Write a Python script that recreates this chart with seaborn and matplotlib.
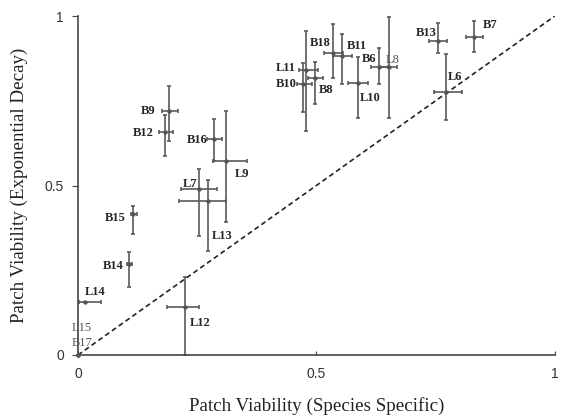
import pandas as pd
import matplotlib
matplotlib.use("Agg")
import matplotlib.pyplot as plt
import seaborn as sns

names = ["B18", "B11", "B6", "L8", "L10", "B8", "L11", "B10", "B13", "B7", "L6",
         "B9", "B12", "B16", "L9", "L7", "L13", "B15", "B14", "L14", "L12", "L15", "B17"]
x = [0.535, 0.553, 0.631, 0.652, 0.587, 0.497, 0.478, 0.472, 0.755, 0.830, 0.771,
     0.191, 0.182, 0.285, 0.310, 0.254, 0.273, 0.115, 0.107, 0.015, 0.224, 0.0, 0.0]
x_lo = [0.516, 0.535, 0.614, 0.633, 0.566, 0.482, 0.463, 0.459, 0.736, 0.813, 0.746,
        0.176, 0.170, 0.270, 0.283, 0.216, 0.212, 0.111, 0.103, 0.002, 0.187, 0.0, 0.0]
x_hi = [0.556, 0.574, 0.650, 0.669, 0.608, 0.514, 0.503, 0.491, 0.774, 0.849, 0.805,
        0.210, 0.199, 0.302, 0.354, 0.291, 0.310, 0.124, 0.113, 0.048, 0.254, 0.0, 0.0]
y = [0.891, 0.882, 0.850, 0.850, 0.802, 0.817, 0.841, 0.799, 0.926, 0.938, 0.776,
     0.720, 0.658, 0.637, 0.572, 0.490, 0.454, 0.416, 0.268, 0.156, 0.142, 0.0, 0.0]
y_lo = [0.817, 0.799, 0.799, 0.699, 0.699, 0.740, 0.661, 0.717, 0.891, 0.894, 0.693,
        0.631, 0.587, 0.572, 0.392, 0.351, 0.307, 0.357, 0.201, 0.156, 0.0, 0.0, 0.0]
y_hi = [0.976, 0.947, 0.906, 0.997, 0.879, 0.864, 0.956, 0.861, 0.979, 0.985, 0.888,
        0.794, 0.708, 0.696, 0.720, 0.549, 0.516, 0.440, 0.304, 0.156, 0.230, 0.0, 0.0]

# label offsets in pixels (dx, dy) relative to each point
offsets = {"B18": (-13, 10), "B11": (15, 10), "B6": (-10, 8), "L8": (4, 7),
           "L10": (12, -15), "B8": (11, -12), "L11": (-20, 2), "B10": (-17, 0),
           "B13": (-12, 8), "B7": (16, 12), "L6": (9, 15), "B9": (-21, 0),
           "B12": (-22, -1), "B16": (-17, -1), "L9": (16, -13), "L7": (-9, 5),
           "L13": (14, -35), "B15": (-18, -4), "B14": (-16, -2), "L14": (10, 10),
           "L12": (15, -16), "L15": (4, 27), "B17": (4, 12)}
light = {"L8", "L15", "B17"}

df = pd.DataFrame({"name": names, "x": x, "y": y, "x_lo": x_lo, "x_hi": x_hi,
                   "y_lo": y_lo, "y_hi": y_hi})

sns.set_style("ticks")
plt.rcParams["font.family"] = ["Liberation Serif", "DejaVu Serif"]

fig = plt.figure(figsize=(5.65, 4.15), dpi=100)
ax = fig.add_axes([0.138, 0.1446, 0.844, 0.8168])

ax.plot([0, 1], [0, 1], ls=(0, (3, 2)), color="#222222", lw=1.2, zorder=1)

ax.errorbar(df["x"], df["y"],
            xerr=[df["x"] - df["x_lo"], df["x_hi"] - df["x"]],
            yerr=[df["y"] - df["y_lo"], df["y_hi"] - df["y"]],
            fmt="none", ecolor="#5a5a5a", elinewidth=1.2, capsize=1.6,
            capthick=1.2, zorder=2, clip_on=False)
sns.scatterplot(data=df, x="x", y="y", color="#555555", s=10, linewidth=0,
                ax=ax, zorder=3, clip_on=False)

for _, r in df.iterrows():
    dx, dy = offsets[r["name"]]
    is_light = r["name"] in light
    ax.annotate(r["name"], (r["x"], r["y"]), xytext=(dx, dy),
                textcoords="offset pixels", ha="center", va="center",
                fontsize=9, color="#555555" if is_light else "#262626",
                fontweight="normal" if is_light else "bold")

ax.set_xlim(0, 1)
ax.set_ylim(0, 1)
ax.set_xticks([0, 0.5, 1])
ax.set_yticks([0, 0.5, 1])
ax.set_xticklabels(["0", "0.5", "1"], family="Liberation Sans", fontsize=10,
                   color="#333333")
ax.set_yticklabels(["0", "0.5", "1"], family="Liberation Sans", fontsize=10,
                   color="#333333")
ax.tick_params(axis="x", direction="in", length=3, pad=9, color="#444444")
ax.tick_params(axis="y", direction="out", length=4, pad=6, color="#444444")
sns.despine(ax=ax)
for s in ["left", "bottom"]:
    ax.spines[s].set_color("#444444")
    ax.spines[s].set_linewidth(1.2)

ax.set_xlabel("Patch Viability (Species Specific)", fontsize=13.7, labelpad=11,
              color="#222222")
ax.set_ylabel("Patch Viability (Exponential Decay)", fontsize=13.7, labelpad=12,
              color="#222222")

fig.savefig("out.png", dpi=100)
